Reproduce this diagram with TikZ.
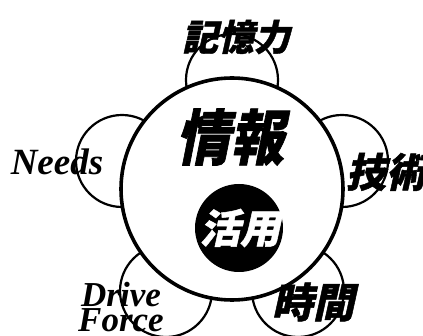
\documentclass[tikz,border=0pt]{standalone}
\usepackage{fontspec}
\setmainfont{Liberation Serif}
\newfontfamily\cjk{Noto Sans CJK JP}[FakeSlant=0.22, FakeBold=1.2]
\tikzset{
  sat/.style={circle, draw=black, line width=2.2pt, fill=white, minimum size=92pt, inner sep=0pt},
  mainc/.style={circle, draw=black, line width=3.6pt, fill=white, minimum size=222pt, inner sep=0pt},
  blackc/.style={circle, fill=black, minimum size=88pt, inner sep=0pt},
  jp/.style={inner sep=0pt, font=\cjk\bfseries},
  en/.style={inner sep=0pt, font=\bfseries\itshape},
}
\begin{document}
\begin{tikzpicture}[x=1pt,y=-1pt]
\useasboundingbox (0,0) rectangle (423,336);
\node[sat] (ctop) at (232,80) {};
\node[sat] (cleft) at (122,161) {};
\node[sat] (cright) at (342,161) {};
\node[sat] (cbl) at (166,291) {};
\node[sat] (cbr) at (298,291) {};
\node[mainc] (main) at (232,189) {};
\node[blackc] (use) at (239,228) {};
\node[jp, font=\cjk\bfseries\fontsize{36}{36}\selectfont] (tmem) at (236,37) {記憶力};
\node[jp, font=\cjk\bfseries\fontsize{60}{60}\selectfont, xscale=0.9] (tinfo) at (230,137) {情報};
\node[jp, font=\cjk\bfseries\fontsize{40}{40}\selectfont, text=white] (tuse) at (240,228) {活用};
\node[jp, font=\cjk\bfseries\fontsize{40}{40}\selectfont] (ttech) at (386,172) {技術};
\node[jp, font=\cjk\bfseries\fontsize{41}{41}\selectfont] (ttime) at (313,302) {時間};
\node[en, font=\bfseries\itshape\fontsize{37}{37}\selectfont, anchor=base] (tneeds) at (57,175) {Needs};
\node[en, font=\bfseries\itshape\fontsize{35}{25}\selectfont, anchor=base, align=center] (tdrive) at (121,332) {Drive\\Force};
\end{tikzpicture}
\end{document}
